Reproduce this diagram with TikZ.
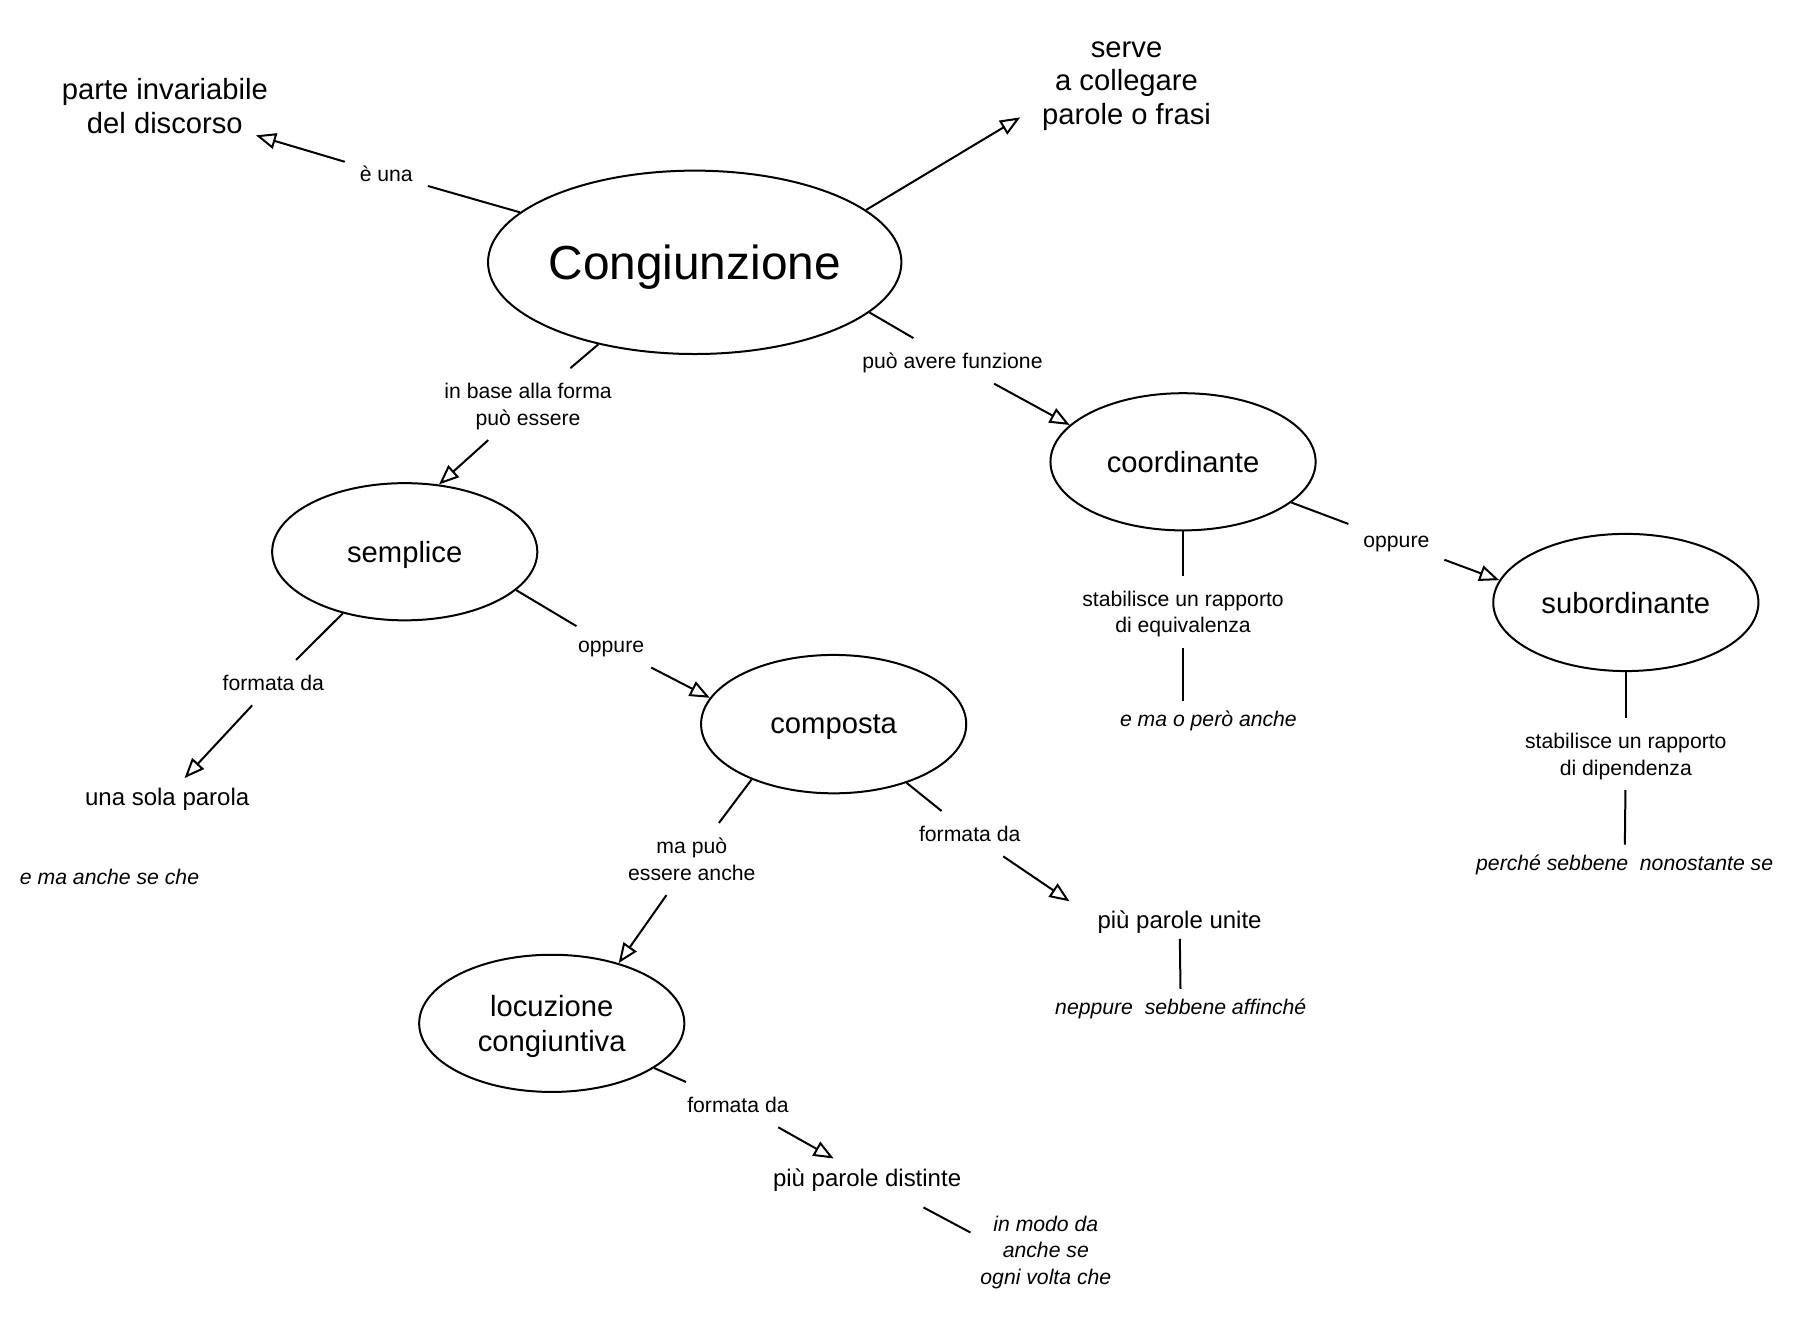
\documentclass[tikz,border=0pt]{standalone}
\usepackage{fontspec}
\setmainfont{Liberation Sans}
\usetikzlibrary{shapes.geometric,arrows.meta}
\begin{document}
\begin{tikzpicture}[x=0.5766pt,y=-0.5766pt,line width=1pt,
concept/.style={draw,ellipse,inner sep=0pt,text depth=0pt,minimum width=132.6pt,minimum height=68.6pt,align=center,font=\fontsize{14.6}{17.2}\selectfont},
note/.style={inner sep=4.5pt,text depth=0pt,align=center,font=\fontsize{14.6}{16.7}\selectfont},
word/.style={inner sep=4.5pt,text depth=0pt,align=center,font=\fontsize{12}{14}\selectfont},
link/.style={inner sep=7pt,text depth=0pt,align=center,font=\fontsize{10.6}{13.3}\selectfont},
ex/.style={inner sep=4.5pt,text depth=0pt,align=center,font=\fontsize{10.6}{13.3}\selectfont\itshape},
arr/.style={-{Triangle[open,length=10pt,width=8pt]}}]
\fill[white] (0,0) rectangle (1568,1152);
\useasboundingbox (0,0) rectangle (1568,1152);
\node[concept,minimum width=202.4pt,minimum height=91.7pt,font=\fontsize{23.9}{28}\selectfont] (cong) at (602.5,227.5) {Congiunzione};
\node[concept] (semplice) at (351,478.5) {semplice};
\node[concept,minimum height=69.2pt] (composta) at (723,628) {composta};
\node[concept] (coord) at (1026,400.5) {coordinante};
\node[concept] (subord) at (1410,522.5) {subordinante};
\node[concept] (locuz) at (478.5,887.5) {locuzione\\congiuntiva};
\node[note] (parte) at (143,92) {parte invariabile\\del discorso};
\node[note] (serve) at (977,72) {serve\\a collegare\\parole o frasi};
\node[word] (una) at (145,691) {una sola parola};
\node[word] (unite) at (1023,798) {più parole unite};
\node[word] (distinte) at (752,1021) {più parole distinte};
\node[link] (euna) at (335,151) {è una};
\node[link] (inbase) at (458,350.5) {in base alla forma\\può essere};
\node[link] (puo) at (826,313) {può avere funzione};
\node[link] (oppA) at (530,561) {oppure};
\node[link] (formA) at (237,592) {formata da};
\node[link] (equiv) at (1026,530.5) {stabilisce un rapporto\\di equivalenza};
\node[link] (oppB) at (1211,470) {oppure};
\node[link] (dip) at (1410,654) {stabilisce un rapporto\\di dipendenza};
\node[link] (mapuo) at (600,745) {ma può\\essere anche};
\node[link] (formB) at (841,723) {formata da};
\node[link] (formC) at (640,958) {formata da};
\node[ex] (exA) at (95,760) {e ma anche se che};
\node[ex] (eo) at (1048,623) {e ma o però anche};
\node[ex] (perche) at (1409,748) {perché sebbene\ \ nonostante se};
\node[ex] (neppure) at (1024,873) {neppure\ \ sebbene affinché};
\node[ex] (inmodo) at (907,1084) {in modo da\\anche se\\ogni volta che};
\draw (cong) -- (euna);
\draw[arr] (euna) -- ([xshift=-11pt,yshift=4pt]parte.south east);
\draw[arr] (cong.17) -- ([xshift=-6pt]serve.200);
\draw (cong) -- (inbase);
\draw[arr] (inbase) -- (semplice.63);
\draw (cong.-16) -- (puo);
\draw[arr] (puo) -- (coord.162);
\draw (semplice.-19) -- (oppA);
\draw[arr] (oppA) -- (composta.168);
\draw (semplice) -- (formA);
\draw[arr] (formA) -- (una);
\draw (coord) -- (equiv);
\draw (equiv) -- (equiv |- eo.north);
\draw (coord) -- (oppB);
\draw[arr] (oppB) -- (subord.170);
\draw (subord) -- (dip);
\draw (dip) -- (perche);
\draw (composta.-146) -- (mapuo);
\draw[arr] (mapuo) -- (locuz.42);
\draw (composta) -- (formB);
\draw[arr] (formB) -- ([xshift=-9pt]unite.north west);
\draw (unite) -- (neppure);
\draw (locuz) -- (formC);
\draw[arr] (formC) -- (distinte);
\draw[shorten <=12pt] (distinte) -- (inmodo.167);
\end{tikzpicture}
\end{document}
